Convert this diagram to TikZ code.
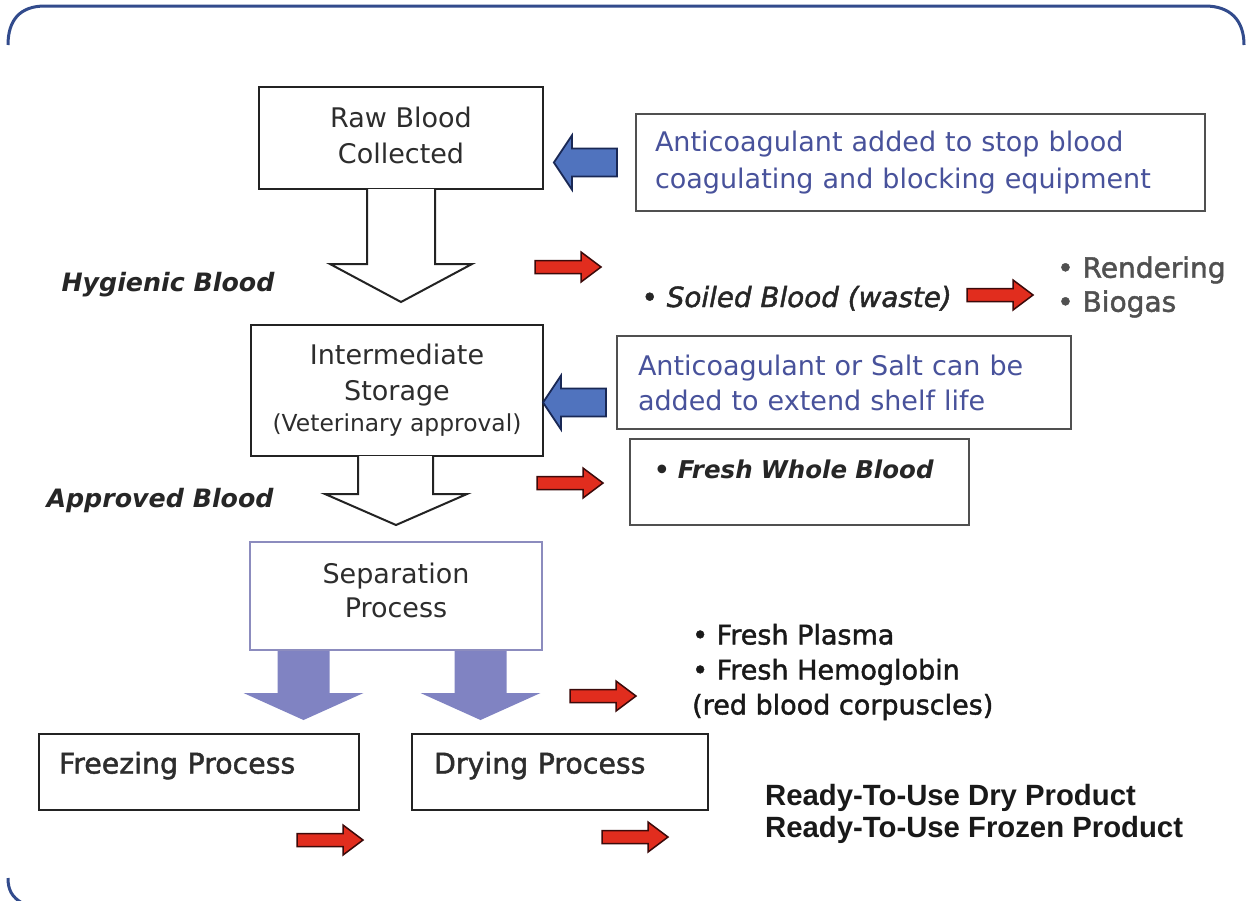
\documentclass[tikz,border=0pt]{standalone}
\usepackage{fontspec}
\setmainfont{DejaVu Sans}
\newfontfamily\semib{DejaVu Sans}[FakeBold=1.6]
\newfontfamily\arialfam{Liberation Sans}
\usetikzlibrary{calc}
\definecolor{framecol}{RGB}{50,75,140}
\definecolor{boxline}{RGB}{35,35,35}
\definecolor{noteline}{RGB}{80,80,80}
\definecolor{boxtext}{RGB}{45,45,45}
\definecolor{bluetext}{RGB}{72,82,155}
\definecolor{bluefill}{RGB}{80,115,190}
\definecolor{blueline}{RGB}{25,40,85}
\definecolor{redfill}{RGB}{225,45,30}
\definecolor{redline}{RGB}{60,10,10}
\definecolor{purplefill}{RGB}{128,131,194}
\definecolor{sepline}{RGB}{140,140,190}
\definecolor{graytext}{RGB}{80,80,80}
\tikzset{
  box/.style={draw=boxline, line width=2pt, fill=white, inner sep=0pt, text=boxtext, align=center},
  notebox/.style={draw=noteline, line width=2.2pt, fill=white, inner sep=0pt, text=bluetext, align=left},
  flowarrow/.style={fill=white, draw=boxline, line width=2pt, line join=miter},
  redarrow/.pic={\path[fill=redfill, draw=redline, line width=1.5pt, line join=miter]
     (0,-6.5) -- (46,-6.5) -- (46,-15) -- (66,0) -- (46,15) -- (46,6.5) -- (0,6.5) -- cycle;},
  bluearrow/.pic={\path[fill=bluefill, draw=blueline, line width=1.8pt, line join=miter]
     (0,0) -- (18,-27) -- (18,-14) -- (63,-14) -- (63,14) -- (18,14) -- (18,27) -- cycle;},
  purplearrow/.pic={\fill[purplefill]
     (-26,0) -- (-26,42) -- (-60,42) -- (0,69) -- (60,42) -- (26,42) -- (26,0) -- cycle;},
  bodyfont/.style={font=\fontsize{27}{36}\selectfont},
  emfont/.style={font=\bfseries\itshape\fontsize{25.3}{30}\selectfont},
}
\begin{document}
\begin{tikzpicture}[x=1pt, y=-1pt]
\useasboundingbox (0,0) rectangle (1247,900);
\fill[white] (0,0) rectangle (1247,900);

% frame
\draw[framecol, line width=3pt] (8,45) .. controls (8,20) and (20,6) .. (45,6) -- (1205,6)
   .. controls (1230,6) and (1244,20) .. (1244,45);
\draw[framecol, line width=3pt] (8,878) .. controls (8,890) and (12,897) .. (22,903);

% main boxes
\node[box, bodyfont, minimum width=284pt, minimum height=102pt, text depth=6pt] (raw) at (401,138) {Raw Blood\\Collected};
\node[box, bodyfont, minimum width=292pt, minimum height=131pt] (int) at (397,390.5)
   {Intermediate\\Storage\\[-5pt]{\fontsize{23.4}{30}\selectfont(Veterinary approval)}};
\node[box, draw=sepline, font=\fontsize{27}{34}\selectfont, minimum width=292pt, minimum height=108pt, text depth=12pt] (sep) at (396,596) {Separation\\Process};

% hollow flow arrows
\path[flowarrow] ($(raw.south)+(-34,-1)$) -- ++(0,75) -- ++(-37,0) -- ($(raw.south)+(0,112)$)
   -- ($(raw.south)+(71,74)$) -- ++(-37,0) -- ++(0,-75);
\path[flowarrow] ($(int.south)+(-39,-1)$) -- ++(0,38) -- ++(-33,0) -- ($(int.south)+(-1,68)$)
   -- ($(int.south)+(70,37)$) -- ++(-34,0) -- ++(0,-38);

% note boxes
\node[notebox, font=\fontsize{27}{37}\selectfont, minimum width=569pt, minimum height=97pt, text width=531pt] (anti1) at (920.5,162.5)
   {Anticoagulant added to stop blood\\coagulating and blocking equipment};
\node[notebox, font=\fontsize{27}{35}\selectfont, minimum width=454pt, minimum height=93pt, text width=412pt] (anti2) at (844,382.5)
   {Anticoagulant or Salt can be\\added to extend shelf life};
\node[draw=noteline, line width=2.2pt, fill=white, anchor=north west, inner sep=0pt, inner xsep=24pt,
   text height=39pt, text depth=47pt, text width=291pt, align=left, text=black!85,
   font=\bfseries\itshape\fontsize{24.5}{30}\selectfont] (fwb) at (629,438) {• Fresh Whole Blood};

% blue arrows
\pic (b1) at ($(anti1.west)+(-81,0)$) {bluearrow};
\pic (b2) at ($(int.east)+(-1,12)$) {bluearrow};

% side labels
\node[anchor=base west, emfont, text=black!85] (hyg) at (58,291) {Hygienic Blood};
\node[anchor=base west, emfont, text=black!85] (appr) at (43,507) {Approved Blood};
\node[anchor=base west, font=\semib\itshape\fontsize{27.8}{30}\selectfont, text=black!85] (soiled) at (638,307) {• Soiled Blood (waste)};
\node[anchor=west, align=left, font=\semib\fontsize{28}{34}\selectfont, text=graytext, inner sep=0pt] (rend) at (1057,287) {• Rendering\\• Biogas};

% separation outputs
\pic (p1) at ($(sep.south west)+(54.5,0)$) {purplearrow};
\pic (p2) at ($(sep.south west)+(231.5,0)$) {purplearrow};
\node[anchor=west, align=left, font=\semib\fontsize{27}{35}\selectfont, text=black!90, inner sep=0pt] (fresh) at (692,672)
   {• Fresh Plasma\\• Fresh Hemoglobin\\(red blood corpuscles)};

\node[draw=boxline, line width=2pt, fill=white, anchor=north west, inner sep=0pt, inner xsep=20pt,
   text height=39.5pt, text depth=36.5pt, text width=280pt, align=left, text=boxtext,
   font=\semib\fontsize{28.4}{34}\selectfont] (freeze) at (38,733) {Freezing Process};
\node[draw=boxline, line width=2pt, fill=white, anchor=north west, inner sep=0pt, inner xsep=22pt,
   text height=39.5pt, text depth=36.5pt, text width=252pt, align=left, text=boxtext,
   font=\semib\fontsize{28.4}{34}\selectfont] (dry) at (411,733) {Drying Process};

\node[anchor=west, align=left, font=\arialfam\bfseries\fontsize{29.3}{32}\selectfont, text=black!90, inner sep=0pt] (ready) at (765,814)
   {Ready-To-Use Dry Product\\Ready-To-Use Frozen Product};

% red arrows
\pic (r1) at (535,267) {redarrow};
\pic (r2) at (967,295) {redarrow};
\pic (r3) at (537,483) {redarrow};
\pic (r4) at (570,696) {redarrow};
\pic (r5) at (297,840) {redarrow};
\pic (r6) at (602,837) {redarrow};
\end{tikzpicture}
\end{document}
